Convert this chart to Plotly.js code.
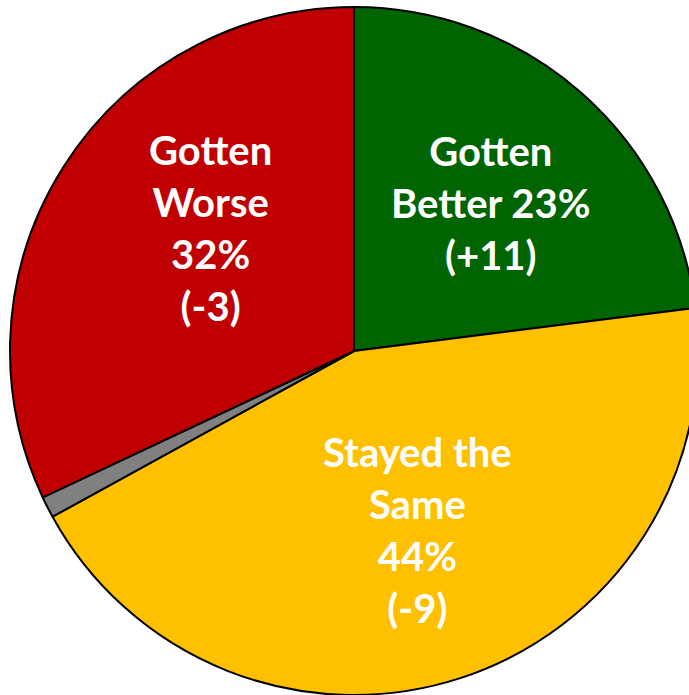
<!DOCTYPE html>
<html>
<head>
<meta charset="utf-8">
<script src="https://cdn.plot.ly/plotly-3.0.1.min.js"></script>
<style>
html, body { margin: 0; padding: 0; overflow: hidden; background: #fff; }
#chart { width: 700px; height: 700px; }
</style>
</head>
<body>
<div id="chart"></div>
<script>
// Data
const categories = ["Gotten Better", "Stayed the Same", "Don't know", "Gotten Worse"];
const shares = [23, 44, 1, 32];
const changes = ["(+11)", "(-9)", "", "(-3)"];
const sliceColors = ["#006400", "#FFC000", "#808080", "#C00000"];
// label text shown on the chart (line breaks as in the original)
const labelLines = [
  ["Gotten", "Better " + shares[0] + "%", changes[0]],
  ["Stayed the", "Same", shares[1] + "%", changes[1]],
  null,
  ["Gotten", "Worse", shares[3] + "%", changes[3]]
];
// label anchor positions in pixels (within 700x700 layout)
const labelPos = [[491, 203], [417, 530], null, [210, 228]];

const W = 700, H = 700;
const annotations = [];
labelLines.forEach((lines, i) => {
  if (!lines) return;
  annotations.push({
    xref: "paper", yref: "paper",
    x: labelPos[i][0] / W, y: 1 - labelPos[i][1] / H,
    xanchor: "center", yanchor: "middle",
    text: lines.map(s => "<b>" + s + "</b>").join("<br>"),
    showarrow: false,
    align: "center",
    font: { family: "Lato, 'Open Sans', sans-serif", size: 40, color: "#FFFFFF" }
  });
});

const trace = {
  type: "pie",
  labels: categories,
  values: shares,
  sort: false,
  direction: "clockwise",
  rotation: 0,
  textinfo: "none",
  hoverinfo: "label+percent",
  marker: { colors: sliceColors, line: { color: "#000000", width: 2 } },
  domain: { x: [10 / W, 698 / W], y: [1 - 695 / H, 1 - 7 / H] },
  showlegend: false
};

Plotly.newPlot("chart", [trace], {
  width: W, height: H,
  margin: { l: 0, r: 0, t: 0, b: 0 },
  paper_bgcolor: "#FFFFFF",
  showlegend: false,
  annotations: annotations
}, { displayModeBar: false, staticPlot: true });
</script>
</body>
</html>
